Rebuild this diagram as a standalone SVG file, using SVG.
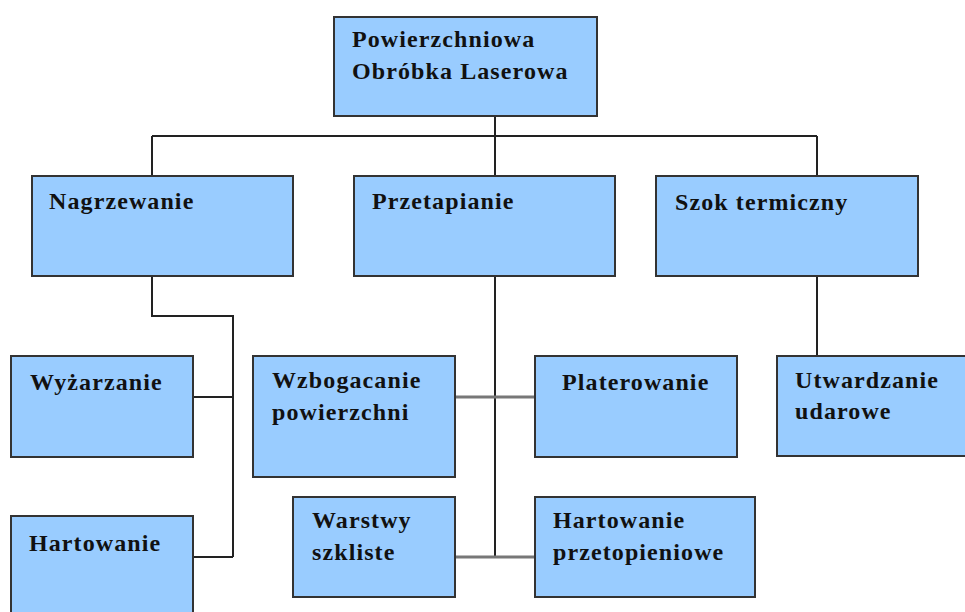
<svg xmlns="http://www.w3.org/2000/svg" width="965" height="612" viewBox="0 0 965 612">
<style>
.b{fill:#99CCFF;stroke:#333;stroke-width:2}
.t{font-family:"Liberation Serif","Times New Roman",serif;font-weight:bold;font-size:24px;letter-spacing:1.1px;fill:#111}
.c{fill:none;stroke:#222;stroke-width:2}
.g{fill:none;stroke:#777;stroke-width:3}
</style>
<rect width="965" height="612" fill="#fff"/>
<g id="connectors">
<path class="c" d="M495 116V136M152 136H817M152 136V176M495 136V176M817 136V176"/>
<path class="c" d="M152 276V316H233V557M193 397H233M193 557H233"/>
<path class="c" d="M495 276V557"/>
<path class="g" d="M455 397H535M455 557H535"/>
<path class="c" d="M817 276V356"/>
</g>
<g id="n-root"><rect class="b" x="334" y="17" width="263" height="99"/><text class="t" x="352" y="47">Powierzchniowa</text><text class="t" x="352" y="79">Obróbka Laserowa</text></g>
<g id="n-nagrzewanie"><rect class="b" x="32" y="176" width="261" height="100"/><text class="t" x="49" y="209">Nagrzewanie</text></g>
<g id="n-przetapianie"><rect class="b" x="354" y="176" width="261" height="100"/><text class="t" x="372" y="209">Przetapianie</text></g>
<g id="n-szok"><rect class="b" x="656" y="176" width="262" height="100"/><text class="t" x="675" y="210">Szok termiczny</text></g>
<g id="n-wyzarzanie"><rect class="b" x="11" y="356" width="182" height="101"/><text class="t" x="30" y="390">Wyżarzanie</text></g>
<g id="n-hartowanie"><rect class="b" x="11" y="516" width="182" height="110"/><text class="t" x="29" y="551">Hartowanie</text></g>
<g id="n-wzbogacanie"><rect class="b" x="253" y="356" width="202" height="121"/><text class="t" x="272" y="388">Wzbogacanie</text><text class="t" x="272" y="420">powierzchni</text></g>
<g id="n-platerowanie"><rect class="b" x="535" y="356" width="202" height="101"/><text class="t" x="562" y="390">Platerowanie</text></g>
<g id="n-warstwy"><rect class="b" x="293" y="497" width="162" height="100"/><text class="t" x="312" y="528">Warstwy</text><text class="t" x="312" y="560">szkliste</text></g>
<g id="n-hartprzet"><rect class="b" x="535" y="497" width="220" height="100"/><text class="t" x="553" y="528">Hartowanie</text><text class="t" x="553" y="560">przetopieniowe</text></g>
<g id="n-utwardzanie"><rect class="b" x="777" y="356" width="200" height="100"/><text class="t" x="795" y="388">Utwardzanie</text><text class="t" x="795" y="419">udarowe</text></g>
</svg>
